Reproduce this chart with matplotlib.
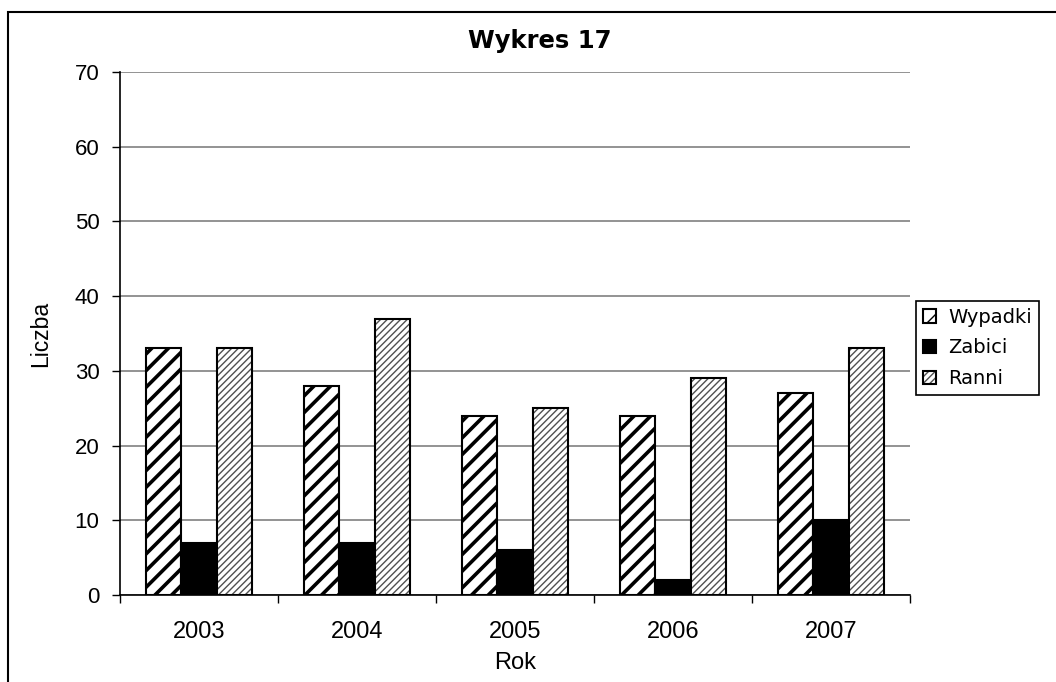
import numpy as np
import matplotlib.pyplot as plt
from matplotlib.colors import to_rgba
from matplotlib.patches import Rectangle

years = ['2003', '2004', '2005', '2006', '2007']
wypadki = [33, 28, 24, 24, 27]
zabici = [7, 7, 6, 2, 10]
ranni = [33, 37, 25, 29, 33]

plt.rcParams['font.family'] = ['Liberation Sans', 'DejaVu Sans']

fig = plt.figure(figsize=(10.56, 6.82), dpi=100)
ax = fig.add_axes([0.1136, 0.1276, 0.7481, 0.7668])

# outer chart-area frame (runs off the right and bottom of the picture)
fig.patches.append(Rectangle((8 / 1056, -0.2), 2.0, 1 - 12 / 682 + 0.2,
                             transform=fig.transFigure, fill=False,
                             edgecolor='black', linewidth=1.5, zorder=0))

x = np.arange(len(years))
w = 0.225

b1 = ax.bar(x - w, wypadki, w, facecolor='white', edgecolor='black',
            hatch='//', linewidth=1.5, zorder=3, label='Wypadki')
b2 = ax.bar(x, zabici, w, facecolor='black', edgecolor='black',
            linewidth=1.5, zorder=3, label='Zabici')
b3 = ax.bar(x + w, ranni, w, facecolor='white', edgecolor='black',
            hatch='/////', linewidth=1.5, zorder=3, label='Ranni')

for p in b1:
    p.set_hatch_linewidth(2.6)
for p in b3:
    p.set_hatch_linewidth(1.0)
    p._hatch_color = to_rgba('#505050')

ax.set_xlim(-0.5, len(years) - 0.5)
ax.set_ylim(0, 70)
ax.set_yticks(range(0, 71, 10))
ax.yaxis.grid(True, color='#808080', linewidth=1.2, zorder=0)
ax.set_axisbelow(True)

ax.set_xticks(x)
ax.set_xticklabels(years, fontsize=17)
ax.set_xticks(np.arange(-0.5, len(years), 1), minor=True)
ax.tick_params(axis='x', which='major', length=0, pad=19)
ax.tick_params(axis='x', which='minor', length=5.8, width=1, direction='out')
ax.tick_params(axis='y', length=5.8, width=1, direction='out', labelsize=16, pad=9)

for s in ['top', 'right']:
    ax.spines[s].set_visible(False)
ax.spines['left'].set_linewidth(1.2)
ax.spines['bottom'].set_linewidth(1.2)

fig.text(540 / 1056, 1 - 41 / 682, 'Wykres 17', fontsize=17.5, fontweight='bold',
         family=['DejaVu Sans'], ha='center', va='center')
ax.set_ylabel('Liczba', fontsize=16.5, labelpad=16)
ax.set_xlabel('Rok', fontsize=17, labelpad=6)

leg = fig.legend(handles=[b1, b2, b3], loc='upper left',
                 bbox_to_anchor=(916 / 1056, 1 - 301 / 682),
                 prop={'family': 'DejaVu Sans', 'size': 14},
                 handlelength=0.7, handleheight=0.7, handletextpad=0.6,
                 labelspacing=0.6, borderpad=0.35, borderaxespad=0,
                 frameon=True, fancybox=False, framealpha=1)
leg.get_frame().set_edgecolor('black')
leg.get_frame().set_linewidth(1.2)

fig.savefig('out.png', dpi=100)
